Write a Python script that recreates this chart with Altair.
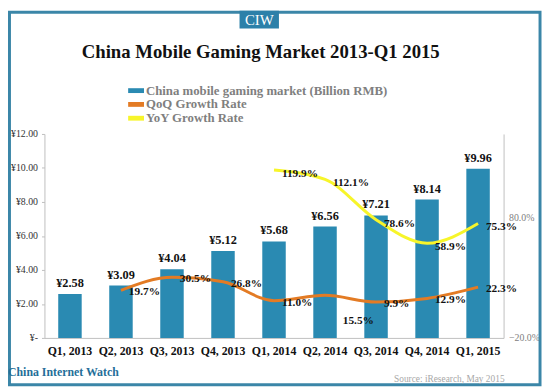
import altair as alt
import pandas as pd

quarters = ["Q1, 2013", "Q2, 2013", "Q3, 2013", "Q4, 2013", "Q1, 2014",
            "Q2, 2014", "Q3, 2014", "Q4, 2014", "Q1, 2015"]
market = [2.58, 3.09, 4.04, 5.12, 5.68, 6.56, 7.21, 8.14, 9.96]
qoq_quarters = quarters[1:]
qoq = [19.7, 30.5, 26.8, 11.0, 15.5, 9.9, 12.9, 22.3]
yoy_quarters = quarters[4:]
yoy = [119.9, 112.1, 78.6, 58.9, 75.3]
series_names = ["China mobile gaming market (Billion RMB)", "QoQ Growth Rate", "YoY Growth Rate"]
series_colors = ["#2a8ab2", "#e37b24", "#f7f52a"]

SERIF = "Liberation Serif"

df_bar = pd.DataFrame({
    "quarter": quarters,
    "value": market,
    "label": ["¥%.2f" % v for v in market],
    "series": series_names[0],
})
df_line = pd.concat([
    pd.DataFrame({"quarter": qoq_quarters, "rate": qoq,
                  "label": ["%.1f%%" % v for v in qoq], "series": series_names[1]}),
    pd.DataFrame({"quarter": yoy_quarters, "rate": yoy,
                  "label": ["%.1f%%" % v for v in yoy], "series": series_names[2]}),
], ignore_index=True)

legend = alt.Legend(
    orient="none", legendX=86, legendY=-51, title=None, direction="vertical",
    symbolType="M-1.15,-0.35H1.15V0.35H-1.15Z", symbolSize=196,
    symbolStrokeWidth=0, symbolOpacity=1, labelLimit=0,
    labelFont=SERIF, labelFontSize=13, labelFontWeight="bold", labelColor="#7f7f7f",
    rowPadding=0, labelOffset=3, padding=0,
)
color = alt.Color("series:N", scale=alt.Scale(domain=series_names, range=series_colors), legend=legend)

x_enc = alt.X(
    "quarter:N", sort=quarters,
    scale=alt.Scale(paddingInner=0.54, paddingOuter=0.27),
    axis=alt.Axis(title=None, labelAngle=0, ticks=False, domainColor="#bfbfbf",
                  labelFont=SERIF, labelFontSize=12, labelFontWeight="bold",
                  labelColor="#111111", labelPadding=8),
)

bar_base = alt.Chart(df_bar).encode(
    x=x_enc,
    y=alt.Y("value:Q", scale=alt.Scale(domain=[0, 12], nice=False),
            axis=alt.Axis(title=None, values=[0, 2, 4, 6, 8, 10, 12], grid=False,
                          labelExpr="datum.value == 0 ? '¥-' : '¥' + format(datum.value, '.2f')",
                          domainColor="#bfbfbf", tickColor="#bfbfbf", tickSize=3,
                          labelPadding=4, labelFont=SERIF, labelFontSize=10,
                          labelColor="#333333")),
)
bars = bar_base.mark_bar().encode(color=color)
bar_text = bar_base.mark_text(dy=-4, baseline="bottom", font=SERIF, fontSize=12.5,
                              fontWeight="bold", color="#111111").encode(text="label:N")
bar_group = alt.layer(bars, bar_text)

line_base = alt.Chart(df_line).encode(
    x=x_enc,
    y=alt.Y("rate:Q", scale=alt.Scale(domain=[-20, 150], nice=False),
            axis=alt.Axis(title=None, orient="right", values=[-20, 80], grid=False,
                          labelExpr="format(datum.value, '.1f') + '%'",
                          ticks=False, domainColor="#bfbfbf", labelPadding=5,
                          labelFont=SERIF, labelFontSize=10, labelColor="#808080")),
)
lines = line_base.mark_line(interpolate="monotone", strokeWidth=3).encode(color=color)
qoq_text = line_base.mark_text(align="left", dx=8, dy=2, font=SERIF, fontSize=11.5,
                               fontWeight="bold", color="#111111").encode(text="label:N").transform_filter(
    "datum.series == 'QoQ Growth Rate' && datum.quarter != 'Q2, 2014'")
qoq_text_below = line_base.mark_text(align="left", dx=18, dy=26, font=SERIF, fontSize=11.5,
                                     fontWeight="bold", color="#111111").encode(text="label:N").transform_filter(
    "datum.series == 'QoQ Growth Rate' && datum.quarter == 'Q2, 2014'")
yoy_text = line_base.mark_text(align="left", dx=8, dy=4, font=SERIF, fontSize=11.5,
                               fontWeight="bold", color="#111111").encode(text="label:N").transform_filter(
    "datum.series == 'YoY Growth Rate'")
line_group = alt.layer(lines, qoq_text, qoq_text_below, yoy_text)

one = pd.DataFrame({"t": ["x"]})
border = alt.Chart(one).mark_rect(fill="transparent", stroke="#3b86a8", strokeWidth=3).encode(
    x=alt.value(-35.5), x2=alt.value(503), y=alt.value(-123.5), y2=alt.value(254.5))
badge = alt.Chart(one).mark_rect(color="#2c80a9").encode(
    x=alt.value(198), x2=alt.value(238), y=alt.value(-125), y2=alt.value(-107))
badge_text = alt.Chart(pd.DataFrame({"t": ["CIW"]})).mark_text(
    font=SERIF, fontSize=15, color="white", baseline="middle").encode(
    x=alt.value(218), y=alt.value(-116), text="t:N")
title = alt.Chart(pd.DataFrame({"t": ["China Mobile Gaming Market 2013-Q1 2015"]})).mark_text(
    font=SERIF, fontSize=19, fontWeight="bold", color="#111111", baseline="middle").encode(
    x=alt.value(219.5), y=alt.value(-83), text="t:N")
brand = alt.Chart(pd.DataFrame({"t": ["China Internet Watch"]})).mark_text(
    font=SERIF, fontSize=12, fontWeight="bold", color="#246f99", align="left", baseline="middle").encode(
    x=alt.value(-37), y=alt.value(242), text="t:N")
source = alt.Chart(pd.DataFrame({"t": ["Source: iResearch, May 2015"]})).mark_text(
    font=SERIF, fontSize=9.5, color="#a8a8a8", align="right", baseline="middle").encode(
    x=alt.value(467), y=alt.value(249), text="t:N")

chart = alt.layer(
    bar_group, line_group, border, badge, badge_text, title, brand, source
).resolve_scale(y="independent").properties(
    width=466, height=207,
    autosize=alt.AutoSizeParams(type="none"),
    padding={"left": 37, "top": 125, "right": 39, "bottom": 50},
    background="white",
).configure_view(stroke=None)

chart.save("out.html", embed_options={"renderer": "svg", "actions": False})
